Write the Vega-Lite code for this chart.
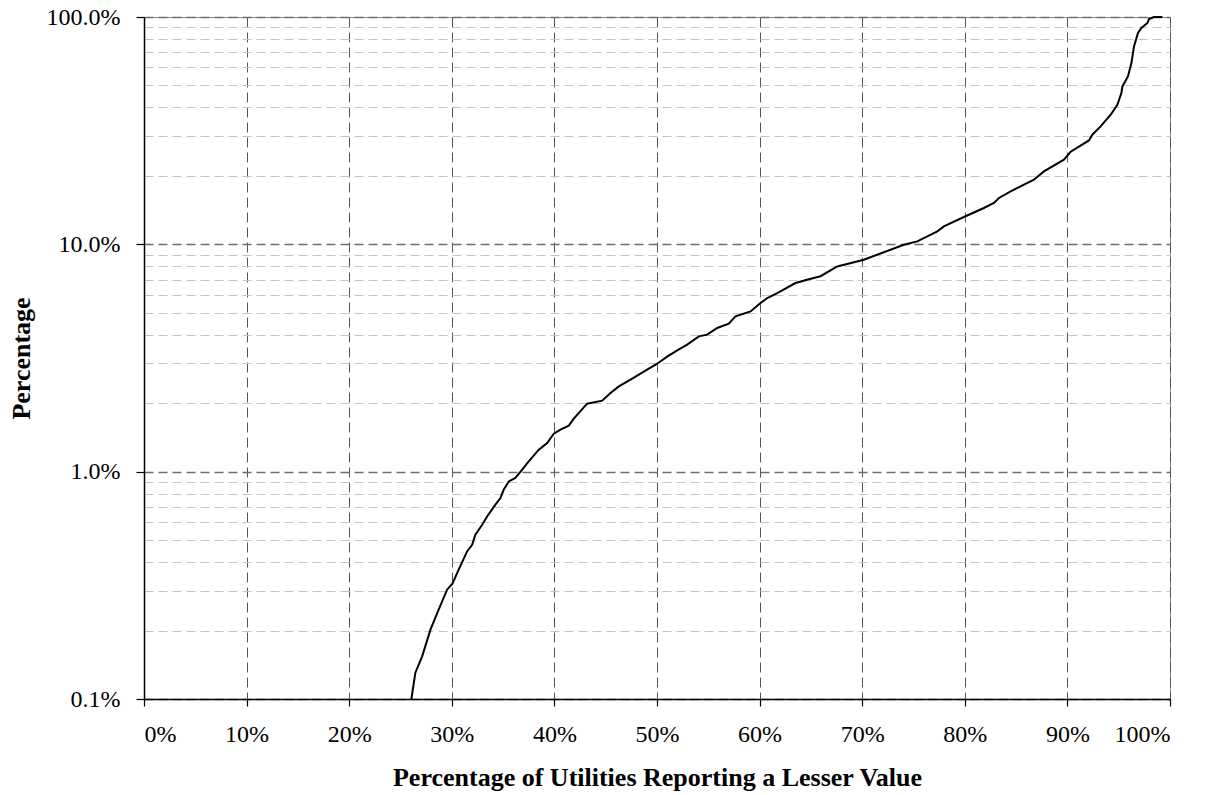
{
  "$schema": "https://vega.github.io/schema/vega-lite/v6.json",
  "width": 1026,
  "height": 682,
  "autosize": {"type": "none"},
  "padding": {"left": 144, "top": 17, "right": 36, "bottom": 96},
  "background": "white",
  "config": {
    "view": {"stroke": "#8a8a8a", "strokeWidth": 1},
    "font": "Liberation Serif",
    "axis": {
      "labelFont": "Liberation Serif",
      "titleFont": "Liberation Serif",
      "labelFontSize": 24,
      "titleFontSize": 26,
      "labelColor": "black",
      "titleColor": "black",
      "domainColor": "black",
      "tickColor": "black",
      "domainWidth": 1.5,
      "tickWidth": 1.2
    }
  },
  "data": {
    "values": [
      {"p": 26.06, "v": 0.100},
      {"p": 26.45, "v": 0.1305},
      {"p": 27.11, "v": 0.154},
      {"p": 27.92, "v": 0.2018},
      {"p": 28.72, "v": 0.247},
      {"p": 29.54, "v": 0.3026},
      {"p": 30.06, "v": 0.3215},
      {"p": 30.67, "v": 0.3705},
      {"p": 31.49, "v": 0.4457},
      {"p": 31.98, "v": 0.477},
      {"p": 32.30, "v": 0.528},
      {"p": 32.96, "v": 0.584},
      {"p": 33.44, "v": 0.6355},
      {"p": 34.25, "v": 0.7157},
      {"p": 34.74, "v": 0.766},
      {"p": 35.06, "v": 0.833},
      {"p": 35.55, "v": 0.906},
      {"p": 36.20, "v": 0.938},
      {"p": 36.86, "v": 1.020},
      {"p": 37.50, "v": 1.109},
      {"p": 38.48, "v": 1.249},
      {"p": 39.29, "v": 1.337},
      {"p": 39.94, "v": 1.469},
      {"p": 40.59, "v": 1.530},
      {"p": 41.40, "v": 1.594},
      {"p": 41.89, "v": 1.710},
      {"p": 43.19, "v": 1.991},
      {"p": 44.66, "v": 2.052},
      {"p": 45.47, "v": 2.218},
      {"p": 46.28, "v": 2.371},
      {"p": 47.42, "v": 2.538},
      {"p": 49.04, "v": 2.809},
      {"p": 50.02, "v": 2.985},
      {"p": 50.99, "v": 3.204},
      {"p": 51.97, "v": 3.416},
      {"p": 52.94, "v": 3.619},
      {"p": 54.08, "v": 3.936},
      {"p": 54.89, "v": 4.005},
      {"p": 55.87, "v": 4.285},
      {"p": 57.00, "v": 4.476},
      {"p": 57.65, "v": 4.819},
      {"p": 59.12, "v": 5.070},
      {"p": 60.09, "v": 5.518},
      {"p": 60.75, "v": 5.805},
      {"p": 61.72, "v": 6.107},
      {"p": 63.50, "v": 6.759},
      {"p": 64.80, "v": 7.024},
      {"p": 65.94, "v": 7.241},
      {"p": 67.57, "v": 7.995},
      {"p": 70.16, "v": 8.559},
      {"p": 74.06, "v": 9.963},
      {"p": 75.37, "v": 10.30},
      {"p": 77.32, "v": 11.40},
      {"p": 77.96, "v": 11.99},
      {"p": 79.91, "v": 13.19},
      {"p": 81.86, "v": 14.45},
      {"p": 82.84, "v": 15.20},
      {"p": 83.33, "v": 16.00},
      {"p": 84.47, "v": 17.10},
      {"p": 86.74, "v": 19.24},
      {"p": 87.71, "v": 20.93},
      {"p": 89.66, "v": 23.56},
      {"p": 90.32, "v": 25.56},
      {"p": 92.10, "v": 28.65},
      {"p": 92.43, "v": 30.35},
      {"p": 93.24, "v": 33.02},
      {"p": 94.22, "v": 37.16},
      {"p": 94.87, "v": 41.13},
      {"p": 95.26, "v": 46.30},
      {"p": 95.36, "v": 49.50},
      {"p": 95.90, "v": 54.79},
      {"p": 96.24, "v": 62.73},
      {"p": 96.49, "v": 74.22},
      {"p": 96.88, "v": 85.05},
      {"p": 97.21, "v": 89.46},
      {"p": 97.80, "v": 94.10},
      {"p": 97.95, "v": 98.00},
      {"p": 98.44, "v": 100.0},
      {"p": 99.26, "v": 100.0}
    ]
  },
  "encoding": {
    "x": {
      "field": "p", "type": "quantitative",
      "scale": {"domain": [0, 100], "nice": false},
      "axis": {
        "values": [0, 10, 20, 30, 40, 50, 60, 70, 80, 90, 100],
        "labelExpr": "datum.value + '%'",
        "grid": true,
        "gridColor": "#555555",
        "gridWidth": 1,
        "gridDash": [10, 5],
        "tickSize": 7,
        "labelPadding": 16,
        "title": "Percentage of Utilities Reporting a Lesser Value",
        "titleFontWeight": "bold",
        "titlePadding": 18
      }
    }
  },
  "resolve": {"axis": {"y": "independent"}},
  "layer": [
    {
      "mark": {"type": "point", "opacity": 0},
      "encoding": {
        "y": {
          "field": "v", "type": "quantitative",
          "scale": {"type": "log", "domain": [0.1, 100], "nice": false},
          "axis": {
            "orient": "left",
            "values": [0.2, 0.3, 0.4, 0.5, 0.6, 0.7, 0.8, 0.9, 2, 3, 4, 5, 6, 7, 8, 9, 20, 30, 40, 50, 60, 70, 80, 90],
            "grid": true,
            "gridColor": "#c4c4c4",
            "gridWidth": 1,
            "gridDash": [9, 5],
            "labels": false,
            "ticks": false,
            "domain": false,
            "title": null
          }
        }
      }
    },
    {
      "mark": {"type": "line", "color": "black", "strokeWidth": 2, "interpolate": "linear"},
      "encoding": {
        "y": {
          "field": "v", "type": "quantitative",
          "scale": {"type": "log", "domain": [0.1, 100], "nice": false},
          "axis": {
            "orient": "left",
            "values": [0.1, 1, 10, 100],
            "labelExpr": "format(datum.value, '.1f') + '%'",
            "grid": true,
            "gridColor": "#6e6e6e",
            "gridWidth": 1.5,
            "gridDash": [9, 5],
            "tickSize": 8,
            "labelPadding": 16,
            "title": "Percentage",
            "titleFontWeight": "bold",
            "titlePadding": 12
          }
        }
      }
    }
  ]
}
